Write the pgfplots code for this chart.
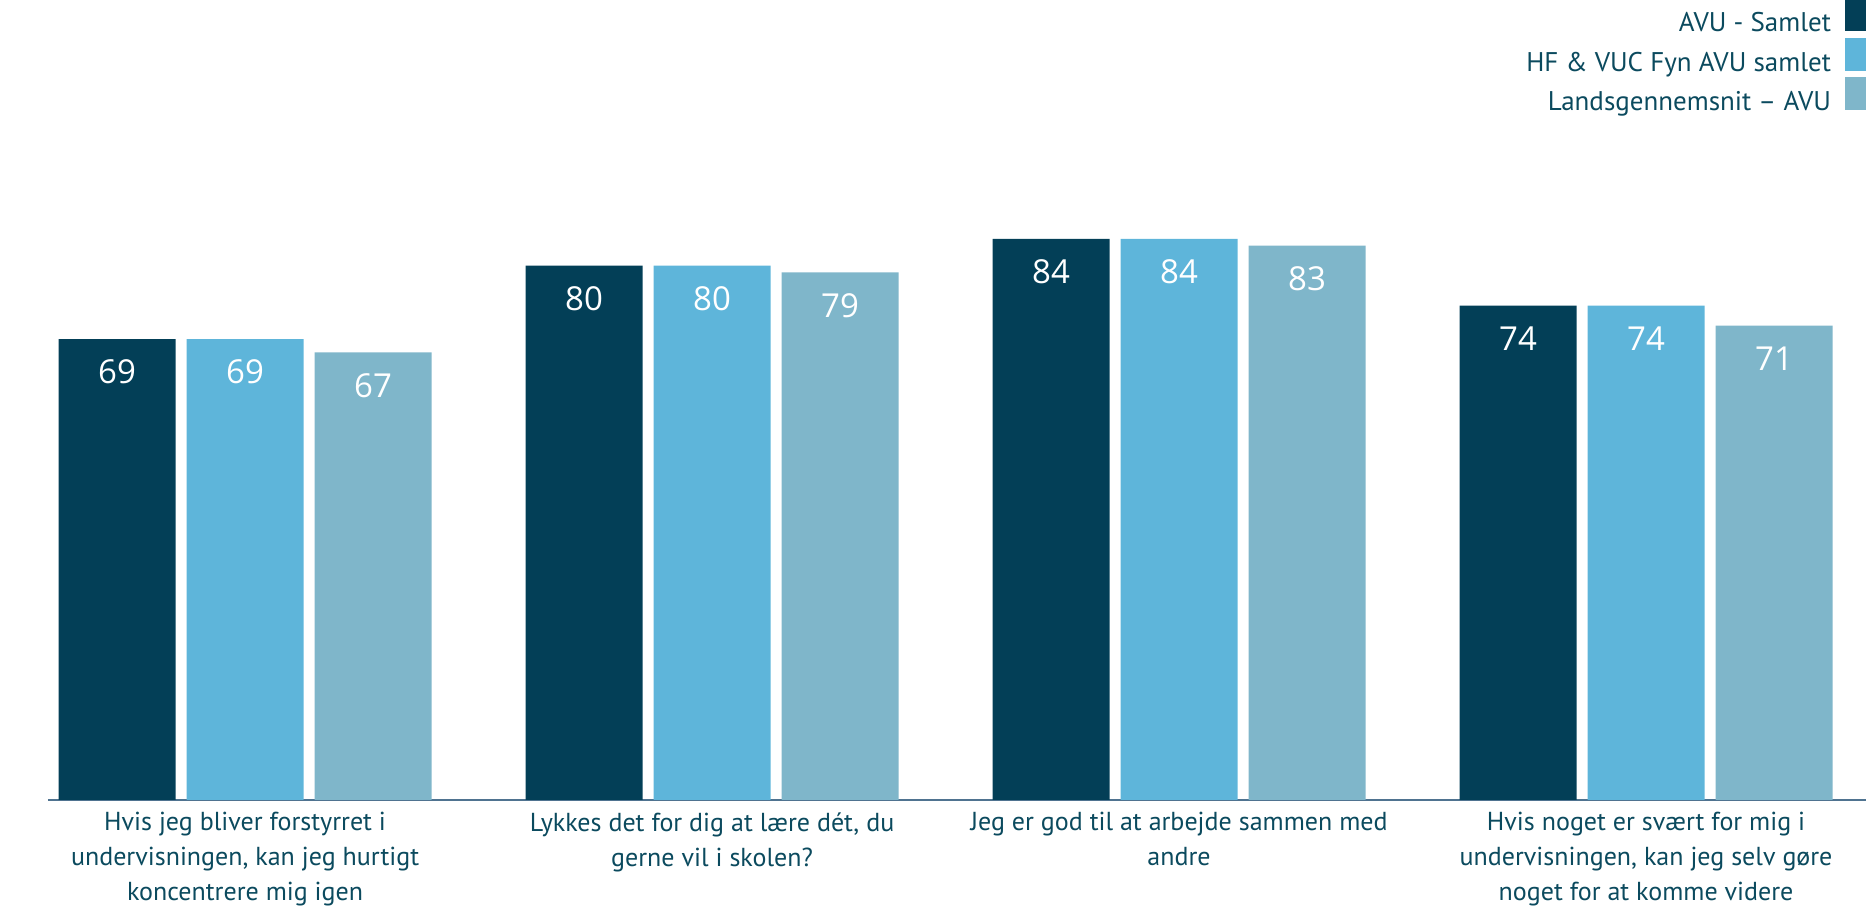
\documentclass[border=0pt]{standalone}
\usepackage{pgfplots}
\pgfplotsset{compat=1.18}
\usepackage{fontspec}
\setmainfont{PT Sans}
\newfontfamily\numfont{Open Sans}
\definecolor{c1}{HTML}{033F57}
\definecolor{c2}{HTML}{5EB5DA}
\definecolor{c3}{HTML}{7FB6CA}
\definecolor{txt}{HTML}{0B4A5E}
\definecolor{axl}{HTML}{4F7390}
\begin{document}
\begin{tikzpicture}
\path[use as bounding box] (-24pt,-54pt) rectangle (909pt,400pt);
\begin{axis}[
  at={(0pt,0pt)}, anchor=south west,
  scale only axis, width=909pt, height=334pt,
  ymin=0, ymax=100,
  xmin=-0.422, xmax=3.471,
  ybar=5.5pt, bar width=58.5pt,
  axis x line*=bottom, axis y line=none,
  x axis line style={draw=axl, line width=0.75pt},
  xtick={0,1,2,3},
  major tick length=0pt,
  /pgf/number format/assume math mode=true,
  xticklabels={{Hvis jeg bliver forstyrret i\\undervisningen, kan jeg hurtigt\\koncentrere mig igen},
               {Lykkes det for dig at lære dét, du\\gerne vil i skolen?},
               {Jeg er god til at arbejde sammen med\\andre},
               {Hvis noget er svært for mig i\\undervisningen, kan jeg selv gøre\\noget for at komme videre}},
  xticklabel style={align=center, anchor=north, inner sep=0pt, yshift=-6pt, text=txt,
     font=\fontsize{13}{17.5}\selectfont},
  nodes near coords,
  nodes near coords style={font=\numfont\fontsize{16.5}{16.5}\selectfont, text=white, anchor=center, yshift=-16.5pt},
  legend style={at={(1,1)}, anchor=north east, yshift=67pt, draw=none, fill=none,
     inner sep=0pt, outer sep=0pt, row sep=1.5pt, column sep=7pt,
     font=\fontsize{13.5}{16}\selectfont, text=txt,
     nodes={inner sep=0pt}},
  legend cell align=right,
  legend plot pos=right,
  legend image code/.code={\fill[#1] (0pt,-3.75pt) rectangle (10.5pt,12.75pt);},
]
\addplot[fill=c1, draw=none] coordinates {(0,69) (1,80) (2,84) (3,74)};
\addplot[fill=c2, draw=none] coordinates {(0,69) (1,80) (2,84) (3,74)};
\addplot[fill=c3, draw=none] coordinates {(0,67) (1,79) (2,83) (3,71)};
\legend{AVU - Samlet, HF \& VUC Fyn AVU samlet, Landsgennemsnit – AVU}
\end{axis}
\end{tikzpicture}
\end{document}
